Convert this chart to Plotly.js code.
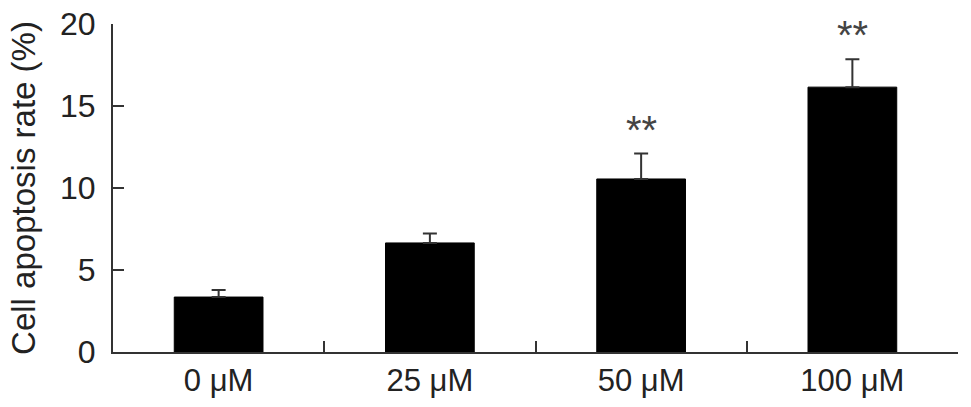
<!DOCTYPE html>
<html>
<head>
<meta charset="utf-8">
<script src="https://cdn.plot.ly/plotly-3.0.1.min.js"></script>
<style>
  html, body { margin: 0; padding: 0; background: #fff; }
  #graph { width: 971px; height: 407px; }
</style>
</head>
<body>
<div id="graph"></div>
<script>
// values
var doses = ['0 \u03bcM', '25 \u03bcM', '50 \u03bcM', '100 \u03bcM'];
var apoptosisRate = [3.35, 6.65, 10.55, 16.15];
var errUp = [0.43, 0.58, 1.55, 1.7];
var signif = ['', '', '**', '**'];

var bars = {
    x: doses,
    y: apoptosisRate,
    type: 'bar',
    width: 0.42,
    marker: {
        color: '#000',
        line: {color: '#000', width: 1}
    },
    error_y: {
        type: 'data',
        array: errUp,
        arrayminus: [0, 0, 0, 0],
        symmetric: false,
        color: '#333',
        thickness: 2,
        width: 7
    },
    hoverinfo: 'none'
};

var stars = [];
for (var i = 0; i < doses.length; i++){
    if (signif[i]){
        stars.push({
            x: doses[i],
            y: apoptosisRate[i] + errUp[i],
            text: signif[i],
            showarrow: false,
            yanchor: 'bottom',
            yshift: 0,
            font: {family: 'Liberation Sans, Arial, sans-serif', size: 40, color: '#444'}
        });
    }
}

var layout = {
    width: 971,
    height: 407,
    margin: {l: 113, r: 13, t: 24, b: 55},
    paper_bgcolor: '#fff',
    plot_bgcolor: '#fff',
    showlegend: false,
    font: {family: 'Liberation Sans, Arial, sans-serif', color: '#222'},
    xaxis: {
        type: 'category',
        showline: true,
        linecolor: '#333',
        linewidth: 2,
        ticks: 'inside',
        tickson: 'boundaries',
        ticklen: 11,
        tickwidth: 2,
        tickcolor: '#333',
        tickfont: {size: 31, color: '#222'},
        ticklabelstandoff: 0,
        showgrid: false,
        zeroline: false,
        fixedrange: true
    },
    yaxis: {
        range: [0, 20],
        tickvals: [0, 5, 10, 15, 20],
        showline: true,
        linecolor: '#333',
        linewidth: 2,
        ticks: 'inside',
        ticklen: 11,
        tickwidth: 2,
        tickcolor: '#333',
        tickfont: {size: 32, color: '#222'},
        ticklabelstandoff: 9,
        showgrid: false,
        zeroline: false,
        fixedrange: true,
        title: {
            text: 'Cell apoptosis rate (%)',
            font: {size: 33, color: '#222'},
            standoff: 14
        }
    },
    annotations: stars
};

Plotly.newPlot('graph', [bars], layout, {displayModeBar: false, staticPlot: true});
</script>
</body>
</html>
